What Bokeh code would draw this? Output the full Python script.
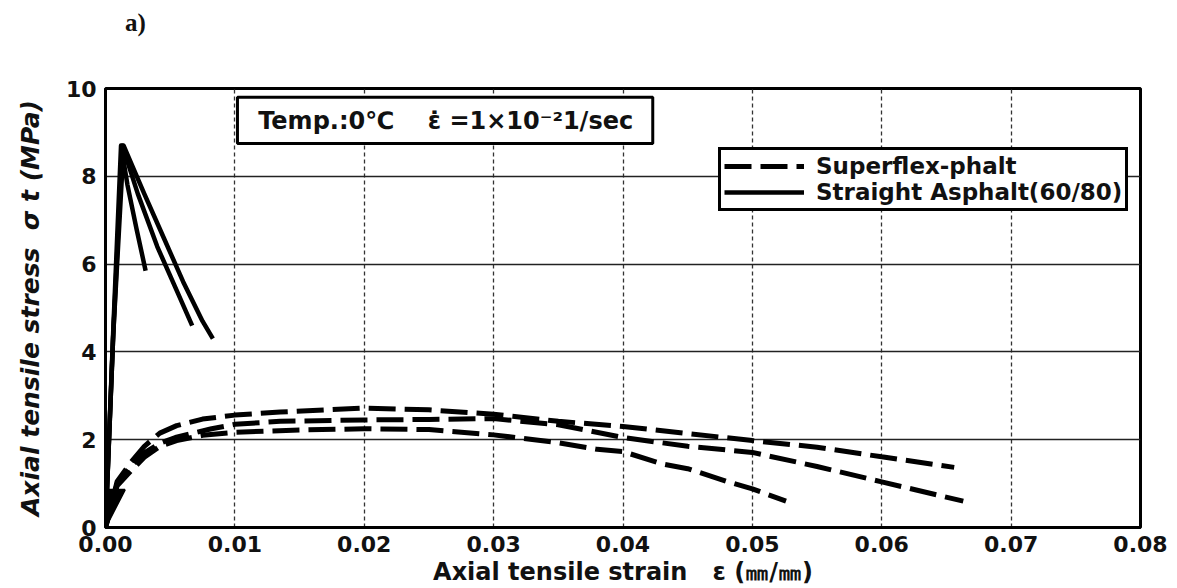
from bokeh.plotting import figure
from bokeh.layouts import column
from bokeh.models import BoxAnnotation, Label, Legend, LegendItem, FixedTicker, PrintfTickFormatter, Div
from bokeh.embed import file_html
from bokeh.resources import INLINE

# ---- data -------------------------------------------------------------
x_ticks = [0.00, 0.01, 0.02, 0.03, 0.04, 0.05, 0.06, 0.07, 0.08]
y_ticks = [0, 2, 4, 6, 8, 10]

# Straight Asphalt (60/80) - solid curves
sa1_x = [0, 0.0006, 0.0012, 0.0017, 0.0024, 0.0031]
sa1_y = [0, 4.5, 8.7, 7.8, 6.8, 5.85]
sa2_x = [0, 0.0006, 0.0013, 0.0025, 0.0040, 0.0055, 0.0067]
sa2_y = [0, 4.4, 8.7, 7.6, 6.4, 5.4, 4.6]
sa3_x = [0, 0.0006, 0.0014, 0.0030, 0.0045, 0.0060, 0.0075, 0.0083]
sa3_y = [0, 4.4, 8.7, 7.6, 6.6, 5.6, 4.7, 4.3]

# Superflex-phalt - dashed curves
sf1_x = [0, 0.0009, 0.002, 0.003, 0.0042, 0.0055, 0.0075, 0.01, 0.0135, 0.02, 0.025,
         0.03, 0.035, 0.04, 0.045, 0.05, 0.055, 0.06, 0.0656]
sf1_y = [0, 1.05, 1.5, 1.85, 2.15, 2.32, 2.47, 2.56, 2.63, 2.72, 2.68,
         2.58, 2.42, 2.3, 2.14, 1.98, 1.83, 1.61, 1.37]
sf2_x = [0, 0.0009, 0.002, 0.003, 0.0042, 0.0054, 0.0082, 0.01, 0.0135, 0.02, 0.025,
         0.03, 0.035, 0.04, 0.045, 0.05, 0.055, 0.06, 0.0663]
sf2_y = [0, 1.0, 1.4, 1.7, 1.92, 2.05, 2.25, 2.35, 2.42, 2.45, 2.46,
         2.48, 2.34, 2.05, 1.85, 1.71, 1.39, 1.04, 0.6]
sf3_x = [0, 0.0009, 0.002, 0.003, 0.0042, 0.0055, 0.0075, 0.01, 0.015, 0.02, 0.025,
         0.03, 0.035, 0.038, 0.04, 0.043, 0.045, 0.048, 0.05, 0.0526]
sf3_y = [0, 0.95, 1.3, 1.6, 1.85, 1.98, 2.1, 2.17, 2.22, 2.25, 2.23,
         2.11, 1.93, 1.78, 1.73, 1.45, 1.34, 1.05, 0.88, 0.6]

# initial loading blob near origin
init_x = [0, 0.0002, 0.0002, 0.0015]
init_y = [0, 0.11, 0.86, 0.86]

FONT = "DejaVu Sans"
NB = "\u00a0"

# ---- figure -----------------------------------------------------------
p = figure(width=1170, height=548, output_backend="svg", toolbar_location=None,
           x_range=(0, 0.08), y_range=(0, 10),
           min_border_left=105, min_border_right=30, min_border_top=48, min_border_bottom=60)
p.background_fill_color = "white"
p.border_fill_color = "white"
p.outline_line_color = "black"
p.outline_line_width = 3

p.xaxis.ticker = FixedTicker(ticks=x_ticks)
p.yaxis.ticker = FixedTicker(ticks=y_ticks)
p.xaxis.formatter = PrintfTickFormatter(format="%.2f")
for ax in (p.xaxis, p.yaxis):
    ax.axis_line_width = 3
    ax.axis_line_color = "black"
    ax.major_tick_line_color = None
    ax.minor_tick_line_color = None
    ax.major_label_text_font = FONT
    ax.major_label_text_font_style = "bold"
    ax.major_label_text_font_size = "22px"
    ax.major_label_text_color = "#111111"
    ax.axis_label_text_font = FONT
    ax.axis_label_text_color = "#111111"
p.xaxis.major_label_standoff = 2
p.yaxis.major_label_standoff = 3
p.xaxis.axis_label = "Axial tensile strain" + NB * 3 + "ε (㎜/㎜)"
p.xaxis.axis_label_text_font_style = "bold"
p.xaxis.axis_label_text_font_size = "24px"
p.xaxis.axis_label_standoff = 3
p.yaxis.axis_label = "Axial tensile stress" + NB * 2 + "σ t (MPa)"
p.yaxis.axis_label_text_font_style = "bold italic"
p.yaxis.axis_label_text_font_size = "25px"
p.yaxis.axis_label_standoff = 18

p.xgrid.grid_line_color = "#333333"
p.xgrid.grid_line_width = 1.3
p.xgrid.grid_line_dash = "4 3"
p.ygrid.grid_line_color = "#222222"
p.ygrid.grid_line_width = 1.4

# ---- curves -----------------------------------------------------------
dash = "27 9"
r_sf = []
for xs, ys in ((sf1_x, sf1_y), (sf2_x, sf2_y), (sf3_x, sf3_y)):
    r_sf.append(p.line(xs, ys, line_color="black", line_width=5, line_dash=dash))
p.patch(init_x, init_y, fill_color="black", line_color="black", line_width=2)

r_sa = []
for xs, ys in ((sa1_x, sa1_y), (sa2_x, sa2_y), (sa3_x, sa3_y)):
    r_sa.append(p.line(xs, ys, line_color="black", line_width=4.5, line_join="round"))

# ---- annotation box ---------------------------------------------------
p.add_layout(BoxAnnotation(left=0.0102, right=0.0423, bottom=8.75, top=9.8,
                           fill_color="white", fill_alpha=1.0,
                           line_color="black", line_alpha=1.0, line_width=3))
p.add_layout(Label(x=0.0118, y=9.27, text="Temp.:0℃" + NB * 4 + "ε̇" + NB + "=1×10⁻²1/sec",
                   text_font=FONT, text_font_style="bold", text_font_size="24px",
                   text_baseline="middle", text_color="#111111"))

# ---- legend -----------------------------------------------------------
legend = Legend(items=[LegendItem(label="Superflex-phalt", renderers=[r_sf[0]]),
                       LegendItem(label="Straight Asphalt(60/80)", renderers=[r_sa[0]])],
                location=(613, 316), orientation="vertical",
                border_line_color="black", border_line_width=3, border_line_alpha=1.0,
                background_fill_color="white", background_fill_alpha=1.0,
                glyph_width=80, glyph_height=22, label_height=22, label_standoff=12,
                spacing=0, padding=3, margin=0,
                label_text_font=FONT, label_text_font_style="bold",
                label_text_font_size="23px", label_text_color="#111111")
p.add_layout(legend)

title_div = Div(text='<span style="font-family:\'Liberation Serif\';font-weight:bold;'
                     'font-size:25px;color:#111111">a)</span>',
                width=300, height=30,
                styles={"padding-left": "120px", "padding-top": "0px"})

layout = column(title_div, p, spacing=0)
open("out.html", "w").write(file_html(layout, INLINE))
